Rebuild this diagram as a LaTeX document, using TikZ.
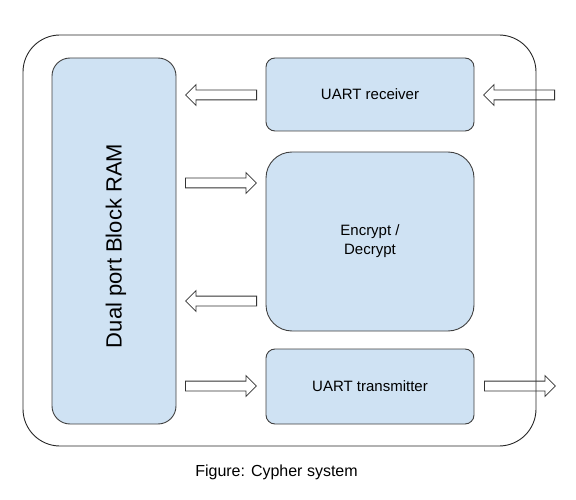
\documentclass[tikz,border=0pt]{standalone}
\usepackage{fontspec}
\setmainfont{Liberation Sans}
\usetikzlibrary{shapes.arrows}
\definecolor{boxblue}{HTML}{CFE2F3}
\begin{document}
\begin{tikzpicture}[x=1pt,y=-1pt]
\tikzset{
	blk/.style={draw=black!75, fill=boxblue, line width=0.9pt, inner sep=0pt},
	arr/.style={single arrow, draw=black!80, line width=0.8pt, minimum height=71pt, anchor=tail,
		inner xsep=0pt, inner ysep=4.5pt, single arrow head extend=5.5pt, single arrow head indent=0pt}
}
\useasboundingbox (0,0) rectangle (576,500);

% outer frame
\node[draw=black!85, line width=0.9pt, rounded corners=37pt, minimum width=513pt, minimum height=411pt] (sys) at (279.5,240.5) {};

% blocks
\node[blk, rounded corners=18pt, minimum width=124pt, minimum height=366pt] (ram) at (114,241) {};
\node[rotate=90, font=\fontsize{22}{26}\selectfont] (ram_t) at (116,246) {Dual port Block RAM};
\node[blk, rounded corners=9pt, minimum width=208pt, minimum height=73pt, font=\fontsize{15}{18}\selectfont] (rx) at (370,94.5) {UART receiver};
\node[blk, rounded corners=26pt, minimum width=208pt, minimum height=179pt, font=\fontsize{15}{19}\selectfont, align=center] (enc) at (370,241.5) {Encrypt /\\Decrypt};
\node[blk, rounded corners=9pt, minimum width=208pt, minimum height=75pt, font=\fontsize{15}{18}\selectfont] (tx) at (370,386.5) {UART transmitter};

% arrows (placed by their tails)
\node[arr, shape border rotate=180] (a_in) at (555,95) {};
\node[arr, shape border rotate=180] (a_rx) at (257,95) {};
\node[arr] (a_enc) at (185,183) {};
\node[arr, shape border rotate=180] (a_dec) at (257,301) {};
\node[arr] (a_tx) at (185,386) {};
\node[arr] (a_out) at (484,386) {};

% caption
\node[font=\fontsize{16}{19}\selectfont] (cap) at (276.5,472) {Figure: Cypher system};

\end{tikzpicture}
\end{document}
